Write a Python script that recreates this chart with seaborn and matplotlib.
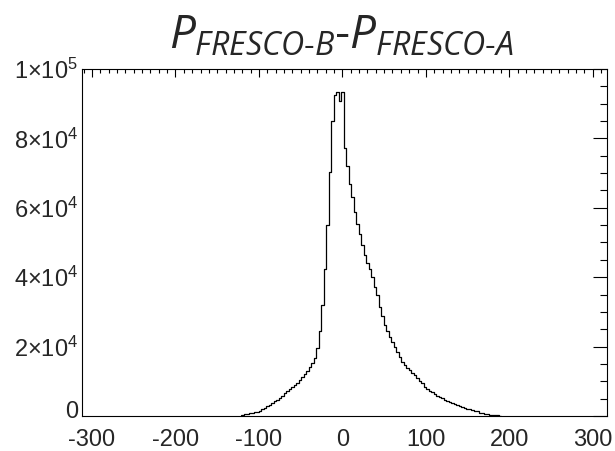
import numpy as np
import pandas as pd
import matplotlib
matplotlib.use("Agg")
import matplotlib.pyplot as plt
from matplotlib.ticker import MultipleLocator, FuncFormatter
from matplotlib.transforms import ScaledTranslation
import seaborn as sns

# ---- data (counts in thousands, bins of width 3 centred on multiples of 3) ----
bin_start = -120
bin_width = 3
counts_left = [0.3, 0.5, 0.7, 0.85, 1.0, 1.1, 1.2, 1.5, 1.9, 2.3,
               2.8, 3.2, 3.7, 4.2, 4.7, 5.3, 5.9, 6.5, 7.1, 7.7,
               8.3, 8.9, 9.6, 10.4, 11.2, 12.0, 13.0, 14.0, 15.3, 16.8,
               19.5, 24.5, 32.0, 42.5, 55.0, 70.3, 85.0, 92.5, 93.5, 90.8,
               93.5]
counts_right = [77.2, 72.0, 67.0, 63.0, 58.8, 55.3, 52.4, 49.3, 46.4, 44.2,
                42.5, 40.0, 37.3, 34.8, 31.5, 28.7, 26.3, 24.5, 22.9, 21.4,
                19.9, 18.4, 16.9, 15.5, 14.6, 13.8, 13.2, 12.4, 11.7, 11.0,
                10.2, 9.4, 8.5, 7.8, 7.3, 6.8, 6.3, 5.9, 5.5, 5.1,
                4.7, 4.3, 4.0, 3.7, 3.4, 3.1, 2.8, 2.5, 2.3, 2.1,
                1.9, 1.7, 1.5, 1.3, 1.0, 0.8, 0.65, 0.5, 0.4, 0.3,
                0.2, 0.15, 0.1]
counts_k = counts_left + counts_right
x_ticks = [-300, -200, -100, 0, 100, 200, 300]
y_ticks = [0, 20000, 40000, 60000, 80000, 100000]
title = r"$P_{FRESCO\text{-}B}\text{-}P_{FRESCO\text{-}A}$"

centers = bin_start + bin_width * np.arange(len(counts_k))
lo = float(centers[0] - bin_width / 2)
hi = float(centers[-1] + bin_width / 2)
df = pd.DataFrame({"diff": centers.astype(float), "count": np.array(counts_k) * 1000})

# ---- style ----
sns.set_style("white")
plt.rcParams["font.family"] = ["Liberation Sans", "DejaVu Sans"]
plt.rcParams["mathtext.fontset"] = "custom"
plt.rcParams["mathtext.rm"] = "Liberation Sans"
plt.rcParams["mathtext.it"] = "Open Sans:italic"
plt.rcParams["mathtext.bf"] = "Liberation Sans:bold"

fig = plt.figure(figsize=(6.15, 4.51), dpi=100)
ax = fig.add_axes([82 / 615, 1 - 416 / 451, (607 - 82) / 615, (416 - 69) / 451])

sns.histplot(data=df, x="diff", weights="count", binwidth=bin_width,
             binrange=(lo, hi), element="step", fill=False, color="black",
             linewidth=0.9, ax=ax)

ax.set_xlim(-312, 317)
ax.set_ylim(0, 100000)
ax.set_xlabel("")
ax.set_ylabel("")

ax.set_xticks(x_ticks)
ax.set_yticks(y_ticks)
ax.xaxis.set_minor_locator(MultipleLocator(10))
ax.yaxis.set_minor_locator(MultipleLocator(5000))


def yfmt(v, pos):
    if v == 0:
        return "0"
    e = int(np.floor(np.log10(v)))
    m = int(round(v / 10 ** e))
    return f"{m}×10$^{{{e}}}$"


ax.yaxis.set_major_formatter(FuncFormatter(yfmt))
ax.set_xticklabels([str(t) for t in x_ticks])

ax.tick_params(axis="both", which="both", direction="in", top=True, right=True,
               color="black", width=0.8)
ax.tick_params(axis="x", which="major", length=6, labelsize=17, pad=9)
ax.tick_params(axis="x", which="minor", length=3)
ax.tick_params(axis="y", which="major", length=10, labelsize=17, pad=3)
ax.tick_params(axis="y", which="minor", length=5)
for sp in ax.spines.values():
    sp.set_color("black")
    sp.set_linewidth(0.8)

# lift the "0" label slightly, as in the reference
zero_tick = ax.yaxis.get_major_ticks()[0]
zero_tick.label1.set_transform(zero_tick.label1.get_transform()
                               + ScaledTranslation(0, 6 / 100, fig.dpi_scale_trans))

fig.text(0.5545, 1 - 49 / 451, title, ha="center", va="baseline", fontsize=33)

fig.savefig("out.png", dpi=100)
